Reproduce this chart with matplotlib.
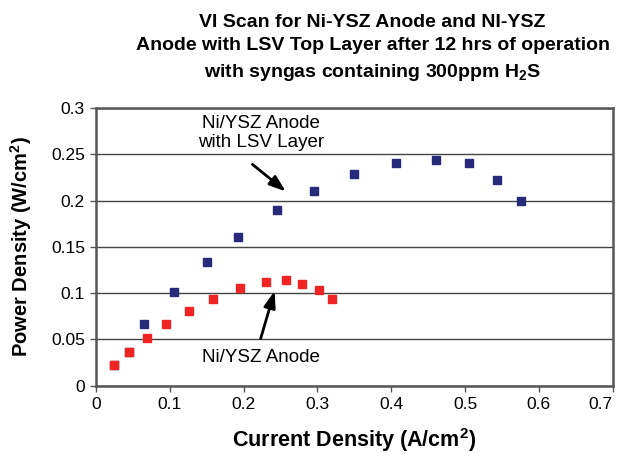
import matplotlib.pyplot as plt

plt.rcParams['font.family'] = ['Liberation Sans', 'DejaVu Sans']

# data
lsv_x = [0.025, 0.045, 0.065, 0.106, 0.150, 0.193, 0.245, 0.296, 0.349, 0.407, 0.461, 0.505, 0.543, 0.576]
lsv_y = [0.022, 0.036, 0.067, 0.101, 0.134, 0.161, 0.190, 0.210, 0.229, 0.241, 0.244, 0.241, 0.222, 0.199]
ni_x = [0.025, 0.045, 0.069, 0.095, 0.126, 0.159, 0.195, 0.230, 0.258, 0.279, 0.302, 0.320]
ni_y = [0.022, 0.036, 0.052, 0.067, 0.081, 0.094, 0.105, 0.112, 0.114, 0.110, 0.103, 0.094]
x_ticks = [0, 0.1, 0.2, 0.3, 0.4, 0.5, 0.6, 0.7]
x_labels = ['0', '0.1', '0.2', '0.3', '0.4', '0.5', '0.6', '0.7']
y_ticks = [0, 0.05, 0.1, 0.15, 0.2, 0.25, 0.3]
y_labels = ['0', '0.05', '0.1', '0.15', '0.2', '0.25', '0.3']

fig = plt.figure(figsize=(6.21, 4.58), dpi=100)
ax = fig.add_axes([0.1546, 0.1579, 0.832, 0.6063])

ax.plot(lsv_x, lsv_y, 's', color='#262a78', ms=6, zorder=3)
ax.plot(ni_x, ni_y, 's', color='#f02424', ms=6, zorder=4)

ax.set_xlim(0, 0.7)
ax.set_ylim(0, 0.3)
ax.set_xticks(x_ticks)
ax.set_xticklabels(x_labels)
ax.get_xticklabels()[-1].set_ha('right')
ax.set_yticks(y_ticks)
ax.set_yticklabels(y_labels)
ax.tick_params(labelsize=12.5, length=4, width=1, color='#555555', pad=4)
ax.yaxis.grid(True, color='#444444', linewidth=1)
ax.set_axisbelow(True)
for s in ax.spines.values():
    s.set_color('#555555')
    s.set_linewidth(1.8)

arrow = dict(arrowstyle='-|>,head_length=0.7,head_width=0.25', color='black', lw=2, mutation_scale=14)
ax.annotate('', xy=(0.260, 0.208), xytext=(0.209, 0.241), arrowprops=arrow)
ax.text(0.224, 0.273, 'Ni/YSZ Anode\nwith LSV Layer', ha='center', va='center', fontsize=13.5, linespacing=1.1)
ax.annotate('', xy=(0.243, 0.105), xytext=(0.222, 0.048), arrowprops=arrow)
ax.text(0.224, 0.030, 'Ni/YSZ Anode', ha='center', va='center', fontsize=13.5)

fig.text(0.60, 0.895, 'VI Scan for Ni-YSZ Anode and NI-YSZ\nAnode with LSV Top Layer after 12 hrs of operation\nwith syngas containing 300ppm H$_\\mathregular{2}$S',
         ha='center', va='center', fontsize=14, fontweight='bold', linespacing=1.5)
ax.set_xlabel('Current Density (A/cm$^\\mathregular{2}$)', fontsize=15.5, fontweight='bold', labelpad=10)
ax.set_ylabel('Power Density (W/cm$^\\mathregular{2}$)', fontsize=14.5, fontweight='bold', labelpad=12)

fig.savefig('out.png', dpi=100)
